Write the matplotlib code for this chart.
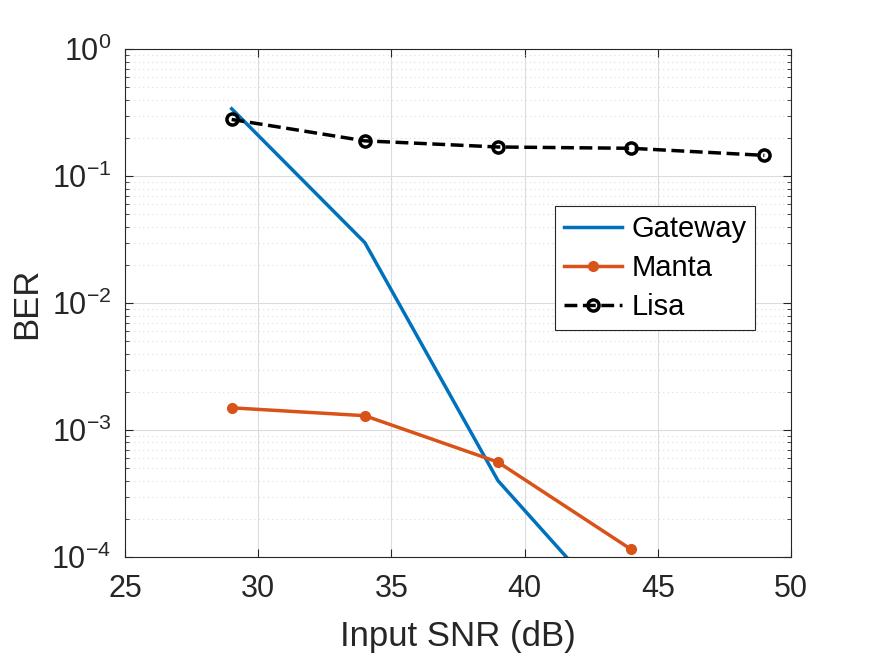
import matplotlib.pyplot as plt
import numpy as np

plt.rcParams['font.family'] = ['Liberation Sans', 'DejaVu Sans']

snr = [29, 34, 39, 44, 49]
gateway = [0.34, 0.030, 4.0e-4, 2.7e-5]
manta = [1.5e-3, 1.3e-3, 5.6e-4, 1.15e-4]
lisa = [0.28, 0.19, 0.17, 0.166, 0.146]

fig = plt.figure(figsize=(8.75, 6.57), dpi=100)
ax = fig.add_axes([0.143, 0.152, 0.761, 0.773])

ax.plot(snr[:4], gateway, color='#0072BD', lw=2.5, label='Gateway')
ax.plot(snr[:4], manta, color='#D95319', lw=2.5, marker='o', ms=7, label='Manta')
ax.plot(snr, lisa, color='k', lw=2.5, ls='--', marker='o', ms=8,
        mfc='none', mew=2.5, label='Lisa')

ax.set_yscale('log')
ax.set_xlim(25, 50)
ax.set_ylim(1e-4, 1)
ax.set_xticks([25, 30, 35, 40, 45, 50])
ax.grid(True, which='major', color='#dcdcdc', lw=0.8)
ax.grid(True, which='minor', color='#dcdcdc', lw=0.8, ls=(0, (1, 3)))
ax.set_axisbelow(True)
ax.tick_params(which='both', direction='in', top=True, right=True,
               labelsize=22, colors='#262626', labelcolor='#262626')
ax.tick_params(axis='x', which='major', pad=12)
ax.tick_params(axis='y', which='major', pad=10)
ax.tick_params(which='major', length=6)
ax.tick_params(which='minor', length=3)
for s in ax.spines.values():
    s.set_color('#262626')
ax.set_xlabel('Input SNR (dB)', fontsize=25, color='#262626', labelpad=12)
ax.set_ylabel('BER', fontsize=25, color='#262626', labelpad=6)

leg = ax.legend(loc='upper right', bbox_to_anchor=(0.968, 0.72), fontsize=21,
                fancybox=False, edgecolor='#262626', framealpha=1,
                handlelength=2.0, borderpad=0.3, labelspacing=0.38,
                handletextpad=0.3)
leg.get_frame().set_linewidth(0.8)

fig.savefig('out.png')
